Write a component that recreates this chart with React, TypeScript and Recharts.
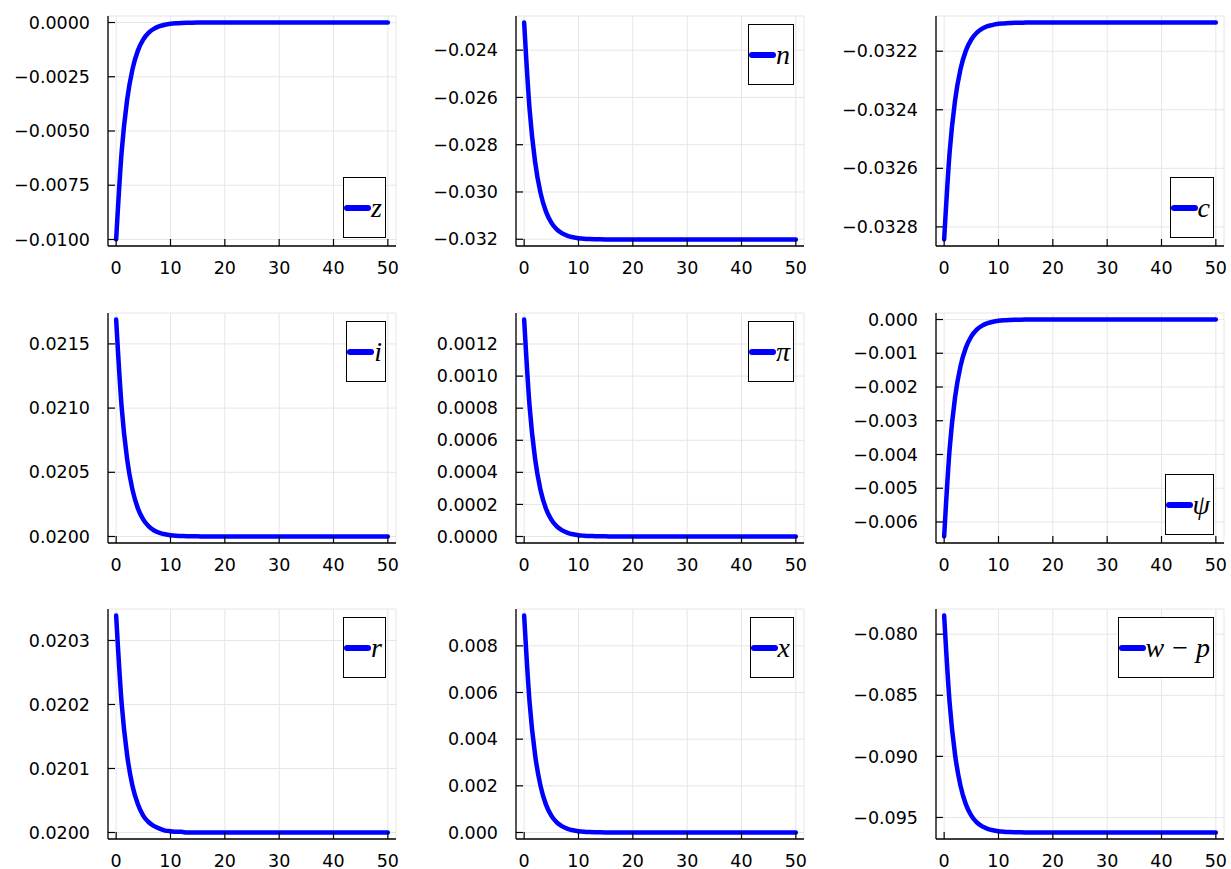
import React from 'react';
import { LineChart, Line, XAxis, YAxis, CartesianGrid, Legend } from 'recharts';

// periods 0..50 of the impulse response
const periods = [
  0, 1, 2, 3, 4, 5, 6, 7, 8, 9,
  10, 11, 12, 13, 14, 15, 16, 17, 18, 19,
  20, 21, 22, 23, 24, 25, 26, 27, 28, 29,
  30, 31, 32, 33, 34, 35, 36, 37, 38, 39,
  40, 41, 42, 43, 44, 45, 46, 47, 48, 49,
  50,
];

const zValues = [
  -0.01, -0.006, -0.0036, -0.00216, -0.001296, -0.000778, -0.000467, -0.00028, -0.000168, -0.000101,
  -0.00006, -0.000036, -0.000022, -0.000013, -0.000008, -0.000005, -0.000003, -0.000002, -0.000001, -0.000001,
  0, 0, 0, 0, 0, 0, 0, 0, 0, 0,
  0, 0, 0, 0, 0, 0, 0, 0, 0, 0,
  0, 0, 0, 0, 0, 0, 0, 0, 0, 0,
  0,
];

const nValues = [
  -0.02283, -0.026502, -0.028705, -0.030027, -0.03082, -0.031296, -0.031582, -0.031753, -0.031856, -0.031918,
  -0.031955, -0.031977, -0.03199, -0.031998, -0.032003, -0.032006, -0.032007, -0.032008, -0.032009, -0.032009,
  -0.03201, -0.03201, -0.03201, -0.03201, -0.03201, -0.03201, -0.03201, -0.03201, -0.03201, -0.03201,
  -0.03201, -0.03201, -0.03201, -0.03201, -0.03201, -0.03201, -0.03201, -0.03201, -0.03201, -0.03201,
  -0.03201, -0.03201, -0.03201, -0.03201, -0.03201, -0.03201, -0.03201, -0.03201, -0.03201, -0.03201,
  -0.03201,
];

const cValues = [
  -0.032843, -0.032547, -0.032369, -0.032262, -0.032198, -0.03216, -0.032137, -0.032123, -0.032114, -0.03211,
  -0.032106, -0.032105, -0.032104, -0.032103, -0.032103, -0.032102, -0.032102, -0.032102, -0.032102, -0.032102,
  -0.032102, -0.032102, -0.032102, -0.032102, -0.032102, -0.032102, -0.032102, -0.032102, -0.032102, -0.032102,
  -0.032102, -0.032102, -0.032102, -0.032102, -0.032102, -0.032102, -0.032102, -0.032102, -0.032102, -0.032102,
  -0.032102, -0.032102, -0.032102, -0.032102, -0.032102, -0.032102, -0.032102, -0.032102, -0.032102, -0.032102,
  -0.032102,
];

const iValues = [
  0.02169, 0.021014, 0.020608, 0.020365, 0.020219, 0.020131, 0.020079, 0.020047, 0.020028, 0.020017,
  0.02001, 0.020006, 0.020004, 0.020002, 0.020001, 0.020001, 0.02, 0.02, 0.02, 0.02,
  0.02, 0.02, 0.02, 0.02, 0.02, 0.02, 0.02, 0.02, 0.02, 0.02,
  0.02, 0.02, 0.02, 0.02, 0.02, 0.02, 0.02, 0.02, 0.02, 0.02,
  0.02, 0.02, 0.02, 0.02, 0.02, 0.02, 0.02, 0.02, 0.02, 0.02,
  0.02,
];

const piValues = [
  0.001353, 0.000812, 0.000487, 0.000292, 0.000175, 0.000105, 0.000063, 0.000038, 0.000023, 0.000014,
  0.000008, 0.000005, 0.000003, 0.000002, 0.000001, 0.000001, 0, 0, 0, 0,
  0, 0, 0, 0, 0, 0, 0, 0, 0, 0,
  0, 0, 0, 0, 0, 0, 0, 0, 0, 0,
  0, 0, 0, 0, 0, 0, 0, 0, 0, 0,
  0,
];

const psiValues = [
  -0.00643, -0.003858, -0.002315, -0.001389, -0.000833, -0.0005, -0.0003, -0.00018, -0.000108, -0.000065,
  -0.000039, -0.000023, -0.000014, -0.000008, -0.000005, -0.000003, -0.000002, -0.000001, -0.000001, 0,
  0, 0, 0, 0, 0, 0, 0, 0, 0, 0,
  0, 0, 0, 0, 0, 0, 0, 0, 0, 0,
  0, 0, 0, 0, 0, 0, 0, 0, 0, 0,
  0,
];

const rValues = [
  0.020339, 0.020203, 0.020122, 0.020073, 0.020044, 0.020026, 0.020016, 0.02001, 0.020006, 0.020003,
  0.020002, 0.020001, 0.020001, 0.02, 0.02, 0.02, 0.02, 0.02, 0.02, 0.02,
  0.02, 0.02, 0.02, 0.02, 0.02, 0.02, 0.02, 0.02, 0.02, 0.02,
  0.02, 0.02, 0.02, 0.02, 0.02, 0.02, 0.02, 0.02, 0.02, 0.02,
  0.02, 0.02, 0.02, 0.02, 0.02, 0.02, 0.02, 0.02, 0.02, 0.02,
  0.02,
];

const xValues = [
  0.0093, 0.00558, 0.003348, 0.002009, 0.001205, 0.000723, 0.000434, 0.00026, 0.000156, 0.000094,
  0.000056, 0.000034, 0.00002, 0.000012, 0.000007, 0.000004, 0.000003, 0.000002, 0.000001, 0.000001,
  0, 0, 0, 0, 0, 0, 0, 0, 0, 0,
  0, 0, 0, 0, 0, 0, 0, 0, 0, 0,
  0, 0, 0, 0, 0, 0, 0, 0, 0, 0,
  0,
];

const wpValues = [
  -0.07847, -0.085574, -0.089836, -0.092394, -0.093928, -0.094849, -0.095401, -0.095733, -0.095932, -0.096051,
  -0.096123, -0.096166, -0.096191, -0.096207, -0.096216, -0.096222, -0.096225, -0.096227, -0.096228, -0.096229,
  -0.09623, -0.09623, -0.09623, -0.09623, -0.09623, -0.09623, -0.09623, -0.09623, -0.09623, -0.09623,
  -0.09623, -0.09623, -0.09623, -0.09623, -0.09623, -0.09623, -0.09623, -0.09623, -0.09623, -0.09623,
  -0.09623, -0.09623, -0.09623, -0.09623, -0.09623, -0.09623, -0.09623, -0.09623, -0.09623, -0.09623,
  -0.09623,
];

// tick labels
const xTicks = [0, 10, 20, 30, 40, 50];
const zTicks = [0, -0.0025, -0.005, -0.0075, -0.01];
const nTicks = [-0.024, -0.026, -0.028, -0.03, -0.032];
const cTicks = [-0.0322, -0.0324, -0.0326, -0.0328];
const iTicks = [0.02, 0.0205, 0.021, 0.0215];
const piTicks = [0, 0.0002, 0.0004, 0.0006, 0.0008, 0.001, 0.0012];
const psiTicks = [0, -0.001, -0.002, -0.003, -0.004, -0.005, -0.006];
const rTicks = [0.02, 0.0201, 0.0202, 0.0203];
const xvTicks = [0, 0.002, 0.004, 0.006, 0.008];
const wpTicks = [-0.08, -0.085, -0.09, -0.095];

const FONT = '"DejaVu Sans", sans-serif';
const BLUE = '#0000ff';

const fmt = (v: number, d: number) => v.toFixed(d).replace('-', '\u2212');

const YTick = (props: any) => {
  const { x, y, payload, digits } = props;
  return (
    <g>
      <line x1={x + 18} x2={x + 25} y1={y} y2={y} stroke="#000" strokeWidth={1.2} />
      <text x={x} y={y} dy="0.35em" textAnchor="end" fontFamily={FONT} fontSize={17.5} fill="#000">
        {fmt(payload.value, digits)}
      </text>
    </g>
  );
};

const XTick = (props: any) => {
  const { x, y, payload } = props;
  return (
    <g>
      <line x1={x} x2={x} y1={y - 16} y2={y - 23} stroke="#000" strokeWidth={1.2} />
      <text x={x} y={y} dy="0.71em" textAnchor="middle" fontFamily={FONT} fontSize={17.5} fill="#000">
        {payload.value}
      </text>
    </g>
  );
};

const LegendBox = ({ label }: { label: React.ReactNode }) => (
  <div
    style={{
      border: '1.2px solid #000',
      background: '#fff',
      height: 59,
      display: 'flex',
      alignItems: 'center',
      paddingRight: 3,
      boxSizing: 'content-box',
    }}
  >
    <svg width={27} height={10} style={{ display: 'block' }}>
      <line x1={3} x2={24} y1={5} y2={5} stroke={BLUE} strokeWidth={6} strokeLinecap="round" />
    </svg>
    <span
      style={{
        fontFamily: '"Liberation Serif", serif',
        fontStyle: 'italic',
        fontSize: 28,
        lineHeight: 1,
        color: '#000',
        whiteSpace: 'nowrap',
      }}
    >
      {label}
    </span>
  </div>
);

interface Panel {
  values: number[];
  ticks: number[];
  digits: number;
  label: React.ReactNode;
  legendAt: 'top' | 'bottom';
}

const panels: Panel[] = [
  { values: zValues, ticks: zTicks, digits: 4, label: 'z', legendAt: 'bottom' },
  { values: nValues, ticks: nTicks, digits: 3, label: 'n', legendAt: 'top' },
  { values: cValues, ticks: cTicks, digits: 4, label: 'c', legendAt: 'bottom' },
  { values: iValues, ticks: iTicks, digits: 4, label: 'i', legendAt: 'top' },
  { values: piValues, ticks: piTicks, digits: 4, label: '\u03c0', legendAt: 'top' },
  { values: psiValues, ticks: psiTicks, digits: 3, label: '\u03c8', legendAt: 'bottom' },
  { values: rValues, ticks: rTicks, digits: 4, label: 'r', legendAt: 'top' },
  { values: xValues, ticks: xvTicks, digits: 3, label: 'x', legendAt: 'top' },
  {
    values: wpValues,
    ticks: wpTicks,
    digits: 3,
    label: (
      <>
        w<span style={{ fontStyle: 'normal', margin: '0 8px' }}>{'\u2212'}</span>p
      </>
    ),
    legendAt: 'top',
  },
];

// plot area positions (left edge of each column, top of each row)
const colLeft = [108, 516, 936];
const rowTop = [16, 313, 609];
const CHART_W = 398;
const CHART_H = 286;

const PanelChart = ({ panel }: { panel: Panel }) => {
  const data = periods.map((t, k) => ({ t, v: panel.values[k] }));
  const lo = Math.min(...panel.values);
  const hi = Math.max(...panel.values);
  const pad = (hi - lo) * 0.03;
  const legendStyle =
    panel.legendAt === 'top'
      ? { top: 24, right: 20, width: 'auto', left: 'auto' }
      : { bottom: 48, right: 20, width: 'auto', left: 'auto', top: 'auto' };
  return (
    <LineChart width={CHART_W} height={CHART_H} data={data} margin={{ top: 16, right: 10, bottom: 0, left: 0 }}>
      <CartesianGrid stroke="#e6e6e6" strokeWidth={1} />
      <XAxis
        dataKey="t"
        type="number"
        domain={[-1.5, 51.5]}
        ticks={xTicks}
        interval={0}
        height={40}
        tickSize={0}
        tickMargin={16}
        tickLine={false}
        axisLine={{ stroke: '#000', strokeWidth: 1.3 }}
        tick={(p: any) => <XTick {...p} />}
      />
      <YAxis
        type="number"
        domain={[lo - pad, hi + pad]}
        ticks={panel.ticks}
        interval={0}
        width={100}
        tickSize={0}
        tickMargin={18}
        tickLine={false}
        axisLine={{ stroke: '#000', strokeWidth: 1.3 }}
        tick={(p: any) => <YTick {...p} digits={panel.digits} />}
      />
      <Legend
        layout="horizontal"
        verticalAlign="middle"
        align="center"
        wrapperStyle={legendStyle as any}
        content={() => <LegendBox label={panel.label} />}
      />
      <Line
        type="monotone"
        dataKey="v"
        stroke={BLUE}
        strokeWidth={4.5}
        strokeLinecap="round"
        strokeLinejoin="round"
        dot={false}
        isAnimationActive={false}
      />
    </LineChart>
  );
};

export default function App() {
  return (
    <div style={{ position: 'absolute', left: 0, top: 0, width: 1231, height: 869, background: '#fff' }}>
      {panels.map((panel, k) => (
        <div
          key={k}
          style={{
            position: 'absolute',
            left: colLeft[k % 3] - 100,
            top: rowTop[Math.floor(k / 3)] - 16,
            width: CHART_W,
            height: CHART_H,
          }}
        >
          <PanelChart panel={panel} />
        </div>
      ))}
    </div>
  );
}
